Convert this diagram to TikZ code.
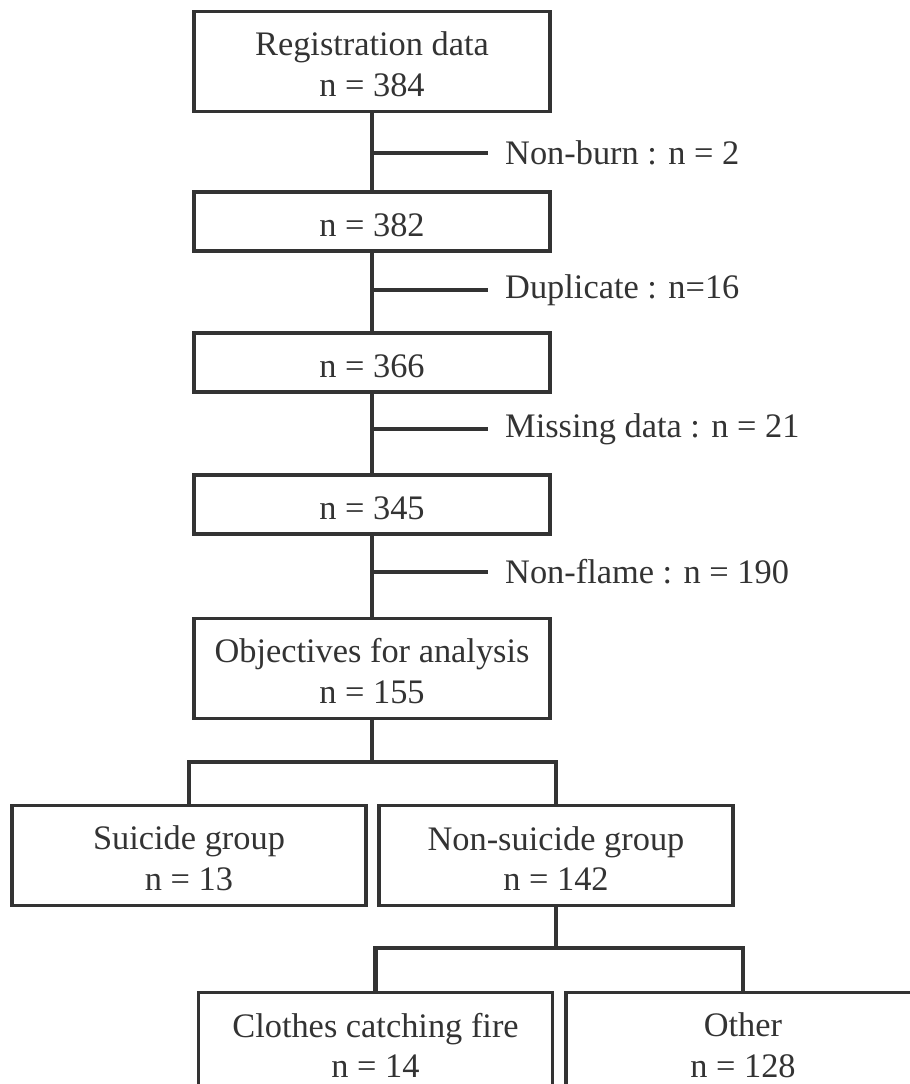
\documentclass[tikz,border=0pt]{standalone}
\usepackage{fontspec}
\setmainfont{Liberation Serif}
\usepackage{tikz}
\usetikzlibrary{positioning}
\definecolor{ink}{HTML}{333333}
\newcommand{\topstrut}{\rule{0pt}{30bp}}

\begin{document}
\begin{tikzpicture}[
    x=1bp, y=-1bp,
    box/.style={
      draw=ink, line width=3.2bp,
      minimum width=356bp, minimum height=59bp,
      align=center, inner sep=0pt, text=ink,
      font=\fontsize{34.5}{41}\selectfont
    },
    tall/.style={box, minimum height=100bp},
    half/.style={tall, minimum width=354bp},
    lbl/.style={text=ink, inner sep=0pt, font=\fontsize{34.5}{41}\selectfont},
    conn/.style={draw=ink, line width=4.4bp}
]
  \clip (0,0) rectangle (910,1084);

  % Define the main column
  \node[tall] (reg) at (372,61.5) {\topstrut Registration data\\n = 384};
  \node[box] (s382) at (372,221.5) {\topstrut n = 382};
  \node[box] (s366) at (372,362.5) {\topstrut n = 366};
  \node[box] (s345) at (372,504.5) {\topstrut n = 345};
  \node[tall] (obj) at (372,668.5) {\topstrut Objectives for analysis\\n = 155};

  % groups
  \node[half] (sui) at (189,855.5) {\topstrut Suicide group\\n = 13};
  \node[half] (non) at (556,855.5) {\topstrut Non-suicide group\\n = 142};
  \node[half] (fire) at (375.5,1042.5) {\topstrut Clothes catching fire\\n = 14};
  \node[half] (oth) at (743,1042.5) {\topstrut Other\\n = 128};

  % Connections down the main column
  \draw[conn] (reg) -- (s382);
  \draw[conn] (s382) -- (s366);
  \draw[conn] (s366) -- (s345);
  \draw[conn] (s345) -- (obj);

  % exclusions
  \foreach \y/\name/\txt in {153/ex1/{Non-burn : n = 2},
                             290/ex2/{Duplicate : n=16},
                             429/ex3/{Missing data : n = 21},
                             572/ex4/{Non-flame : n = 190}}{
    \coordinate (\name) at (488,\y);
    \draw[conn] (reg.south |- \name) -- (\name);
    \node[lbl, right=17bp of \name] (\name-lbl) {\txt};
  }

  % split into groups
  \coordinate (fork1) at (372,762);
  \draw[conn] (obj) -- (fork1);
  \draw[conn] (sui) |- (fork1) -| (non);

  \coordinate (fork2) at (556,948);
  \draw[conn] (non) -- (fork2);
  \draw[conn] (fire) |- (fork2) -| (oth);

\end{tikzpicture}
\end{document}
